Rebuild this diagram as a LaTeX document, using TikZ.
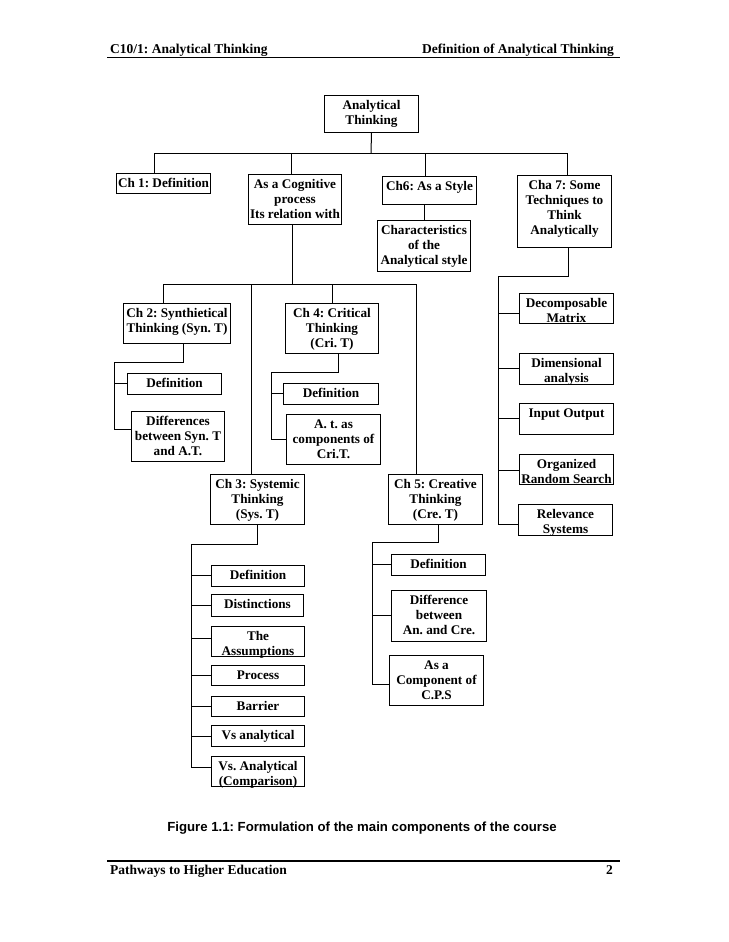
\documentclass[tikz,border=0pt]{standalone}
\usepackage{fontspec}
\setmainfont{Liberation Serif}
\newfontfamily\capfont{Liberation Sans}
% box: name, x, y (top-left, px), width, height, text
\newcommand\bnode[6]{%
  \node[bx, anchor=north west, minimum width=#4pt, minimum height=#5pt] (#1) at (#2,#3)
  {\parbox[t][#5pt][t]{#4pt}{\centering\rule{0pt}{14pt}#6}};}
\begin{document}
\frenchspacing
\begin{tikzpicture}[x=1pt,y=-1pt,
  bx/.style={draw, line width=1pt, inner sep=0pt, font=\fontsize{13.2}{15}\selectfont\bfseries},
  ln/.style={line width=1pt},
  hd/.style={inner sep=0pt, font=\fontsize{13.5}{16}\selectfont\bfseries}]
\useasboundingbox (0,0) rectangle (728,942);
\fill[white] (0,0) rectangle (728,942);

% header and footer
\node[hd, anchor=base west] (h1) at (110,53) {C10/1: Analytical Thinking};
\node[hd, anchor=base east] (h2) at (614,53) {Definition of Analytical Thinking};
\draw[line width=1.5pt] (107,57.5) -- (620,57.5);
\draw[line width=1.2pt] (107,861) -- (620,861);
\node[hd, anchor=base west] (f1) at (110,874) {Pathways to Higher Education};
\node[hd, anchor=base east] (f2) at (613,874) {2};
\node[inner sep=0pt, anchor=base, font=\capfont\bfseries\fontsize{13.2}{15}\selectfont] (cap) at (362,831)
  {Figure 1.1: Formulation of the main components of the course};

% boxes
\bnode{AT}{324}{95}{94}{37}{Analytical\\Thinking}
\bnode{ch1}{116}{173}{94}{20}{Ch 1: Definition}
\bnode{cog}{248}{174}{93}{50}{As a Cognitive\\process\\Its relation with}
\bnode{ch6}{382}{176}{94}{28}{Ch6: As a Style}
\bnode{char}{377}{220}{93}{51}{Characteristics\\of the\\Analytical style}
\bnode{ch7}{517}{175}{94}{72}{Cha 7: Some\\Techniques to\\Think\\Analytically}
\bnode{ch2}{123}{303}{107}{40}{Ch 2: Synthietical\\Thinking (Syn. T)}
\bnode{ch4}{285}{303}{93}{50}{Ch 4: Critical\\Thinking\\(Cri. T)}
\bnode{ch2def}{127}{373}{94}{21}{Definition}
\bnode{ch2diff}{131}{411}{93}{50}{Differences\\between Syn. T\\and A.T.}
\bnode{ch4def}{283}{383}{95}{21}{Definition}
\bnode{ch4at}{286}{414}{94}{50}{A. t. as\\components of\\Cri.T.}
\bnode{ch3}{210}{474}{94}{50}{Ch 3: Systemic\\Thinking\\(Sys. T)}
\bnode{ch5}{388}{474}{94}{50}{Ch 5: Creative\\Thinking\\(Cre. T)}
\bnode{dec}{519}{293}{94}{30}{Decomposable\\Matrix}
\bnode{dim}{519}{353}{94}{31}{Dimensional\\analysis}
\bnode{io}{519}{403}{94}{31}{Input Output}
\bnode{org}{519}{454}{94}{30}{Organized\\Random Search}
\bnode{rel}{518}{504}{94}{31}{Relevance\\Systems}
\bnode{ch3def}{211}{565}{93}{21}{Definition}
\bnode{dist}{211}{594}{92}{22}{Distinctions}
\bnode{assm}{211}{626}{93}{30}{The\\Assumptions}
\bnode{proc}{211}{665}{93}{20}{Process}
\bnode{barr}{211}{696}{93}{20}{Barrier}
\bnode{vsa}{211}{725}{93}{21}{Vs analytical}
\bnode{vsc}{211}{756}{93}{30}{Vs. Analytical\\(Comparison)}
\bnode{ch5def}{391}{554}{94}{21}{Definition}
\bnode{ch5diff}{391}{590}{95}{51}{Difference\\between\\An. and Cre.}
\bnode{cps}{389}{655}{94}{50}{As a\\Component of\\C.P.S}

% top level
\coordinate (t0) at (371,153);
\coordinate (t1) at (154,153);
\coordinate (t2) at (291,153);
\coordinate (t3) at (425,153);
\coordinate (t4) at (567,153);
\draw[ln] (AT.south) -- (t0);
\draw[ln] (t1) -- (t4);
\draw[ln] (t1) -- (t1 |- ch1.north);
\draw[ln] (t2) -- (t2 |- cog.north);
\draw[ln] (t3) -- (t3 |- ch6.north);
\draw[ln] (t4) -- (t4 |- ch7.north);
\coordinate (c6) at (424,0);
\draw[ln] (c6 |- ch6.south) -- (c6 |- char.north);

% cognitive level
\coordinate (m0) at (292,284);
\coordinate (m1) at (163,284);
\coordinate (m2) at (251,284);
\coordinate (m3) at (332,284);
\coordinate (m4) at (416,284);
\draw[ln] (m0 |- cog.south) -- (m0);
\draw[ln] (m1) -- (m4);
\draw[ln] (m1) -- (m1 |- ch2.north);
\draw[ln] (m2) -- (m2 |- ch3.north);
\draw[ln] (m3) -- (m3 |- ch4.north);
\draw[ln] (m4) -- (m4 |- ch5.north);

% ch2 subtree
\coordinate (p2) at (183,362);
\coordinate (s2) at (114,362);
\coordinate (a2) at (114,383);
\coordinate (e2) at (114,429);
\draw[ln] (p2 |- ch2.south) -- (p2) -- (s2) -- (e2);
\draw[ln] (a2) -- (a2 -| ch2def.west);
\draw[ln] (e2) -- (e2 -| ch2diff.west);

% ch4 subtree
\coordinate (p4) at (338,372);
\coordinate (s4) at (271,372);
\coordinate (a4) at (271,393);
\coordinate (e4) at (271,439);
\draw[ln] (p4 |- ch4.south) -- (p4) -- (s4) -- (e4);
\draw[ln] (a4) -- (a4 -| ch4def.west);
\draw[ln] (e4) -- (e4 -| ch4at.west);

% ch3 subtree
\coordinate (p3) at (257,544);
\coordinate (s3) at (191,544);
\coordinate (a3) at (191,575);
\coordinate (b3) at (191,605);
\coordinate (c3) at (191,638);
\coordinate (d3) at (191,675);
\coordinate (f3) at (191,706);
\coordinate (g3) at (191,736);
\coordinate (e3) at (191,767);
\draw[ln] (p3 |- ch3.south) -- (p3) -- (s3) -- (e3);
\draw[ln] (a3) -- (a3 -| ch3def.west);
\draw[ln] (b3) -- (b3 -| dist.west);
\draw[ln] (c3) -- (c3 -| assm.west);
\draw[ln] (d3) -- (d3 -| proc.west);
\draw[ln] (f3) -- (f3 -| barr.west);
\draw[ln] (g3) -- (g3 -| vsa.west);
\draw[ln] (e3) -- (e3 -| vsc.west);

% ch5 subtree
\coordinate (p5) at (438,542);
\coordinate (s5) at (372,542);
\coordinate (a5) at (372,564);
\coordinate (b5) at (372,615);
\coordinate (e5) at (372,684);
\draw[ln] (p5 |- ch5.south) -- (p5) -- (s5) -- (e5);
\draw[ln] (a5) -- (a5 -| ch5def.west);
\draw[ln] (b5) -- (b5 -| ch5diff.west);
\draw[ln] (e5) -- (e5 -| cps.west);

% ch7 subtree
\coordinate (p7) at (568,276);
\coordinate (s7) at (498,276);
\coordinate (a7) at (498,313);
\coordinate (b7) at (498,368);
\coordinate (c7) at (498,418);
\coordinate (d7) at (498,470);
\coordinate (e7) at (498,524);
\draw[ln] (p7 |- ch7.south) -- (p7) -- (s7) -- (e7);
\draw[ln] (a7) -- (a7 -| dec.west);
\draw[ln] (b7) -- (b7 -| dim.west);
\draw[ln] (c7) -- (c7 -| io.west);
\draw[ln] (d7) -- (d7 -| org.west);
\draw[ln] (e7) -- (e7 -| rel.west);
\end{tikzpicture}
\end{document}
